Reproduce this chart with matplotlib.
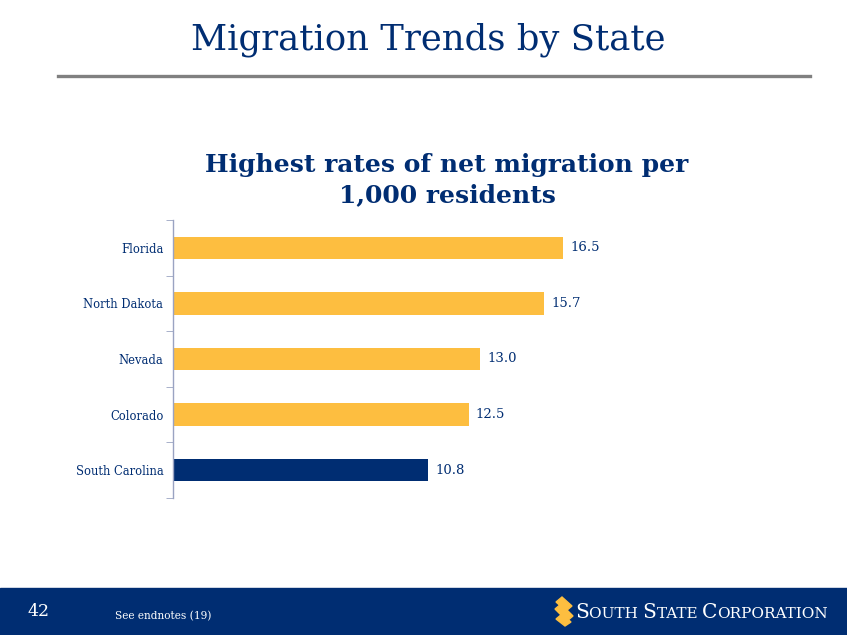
import matplotlib
matplotlib.use("Agg")
import matplotlib.pyplot as plt
from matplotlib.patches import Rectangle, Polygon
from matplotlib.lines import Line2D

states = ["Florida", "North Dakota", "Nevada", "Colorado", "South Carolina"]
values = [16.5, 15.7, 13.0, 12.5, 10.8]
value_labels = ["16.5", "15.7", "13.0", "12.5", "10.8"]
highlight = "South Carolina"

NAVY = "#002d72"
YELLOW = "#fdbe40"
W, H = 847, 635

fig = plt.figure(figsize=(W / 100, H / 100), dpi=100)
fig.patch.set_facecolor("white")

def fx(px):
    return px / W

def fy(py):
    return 1 - py / H

# Page title
fig.text(fx(428), fy(40), "Migration Trends by State", ha="center", va="center",
         fontsize=25.5, color=NAVY, family="DejaVu Serif")
fig.add_artist(Line2D([fx(58), fx(810)], [fy(76), fy(76)], color="#808080", lw=2.4))

# Chart title
fig.text(fx(447), fy(180), "Highest rates of net migration per\n1,000 residents", ha="center",
         va="center", fontsize=18, color=NAVY, family="DejaVu Serif", fontweight="bold",
         linespacing=1.3)

# Bar chart
ax = fig.add_axes([fx(173), fy(498), fx(646) - fx(173), fy(220) - fy(498)])
ypos = list(range(len(states)))
colors = [NAVY if s == highlight else YELLOW for s in states]
ax.barh(ypos, values, height=0.4, color=colors)
ax.set_xlim(0, 20)
ax.set_ylim(len(states) - 0.5, -0.5)
for y, v, lab in zip(ypos, values, value_labels):
    ax.text(v + 0.3, y, lab, va="center", ha="left", fontsize=9.5, color=NAVY,
            family="DejaVu Serif")
ax.set_yticks(ypos)
ax.set_yticklabels(states, fontsize=8.3, color=NAVY, family="DejaVu Serif")
ax.tick_params(axis="y", length=0, pad=7)
ax.set_yticks([i - 0.5 for i in range(len(states) + 1)], minor=True)
ax.tick_params(axis="y", which="minor", length=5, color="#9aa3c2", direction="out")
ax.set_xticks([])
for side in ["top", "right", "bottom"]:
    ax.spines[side].set_visible(False)
ax.spines["left"].set_color("#9aa3c2")
ax.spines["left"].set_linewidth(1)
ax.set_facecolor("none")

# Footer band
fig.add_artist(Rectangle((0, 0), 1, fy(588), transform=fig.transFigure, color=NAVY, zorder=0))
fig.text(fx(27), fy(612), "42", ha="left", va="center", fontsize=12.5, color="white",
         family="DejaVu Serif")
fig.text(fx(115), fy(616), "See endnotes (19)", ha="left", va="center", fontsize=7.6,
         color="white", family="DejaVu Serif")

# Logo mark: stacked slanted bars
def px_poly(points):
    return Polygon([(fx(x), fy(y)) for x, y in points], closed=True,
                   transform=fig.transFigure, color=YELLOW, zorder=2)

fig.add_artist(px_poly([(556, 602), (562, 597), (572, 606), (566, 611)]))
fig.add_artist(px_poly([(555, 609), (561, 604), (573, 616), (567, 621)]))
fig.add_artist(px_poly([(556, 619), (562, 614), (571, 622), (565, 626)]))

# Logo text in small caps
x = 575
parts = [("S", 14.5), ("OUTH ", 11), ("S", 14.5), ("TATE ", 11), ("C", 14.5), ("ORPORATION", 11)]
renderer = fig.canvas.get_renderer()
for txt, size in parts:
    t = fig.text(fx(x), fy(618), txt, ha="left", va="baseline", fontsize=size, color="white",
                 family="DejaVu Serif")
    bb = t.get_window_extent(renderer=renderer)
    x += bb.width

fig.savefig("out.png", dpi=100, facecolor="white")
